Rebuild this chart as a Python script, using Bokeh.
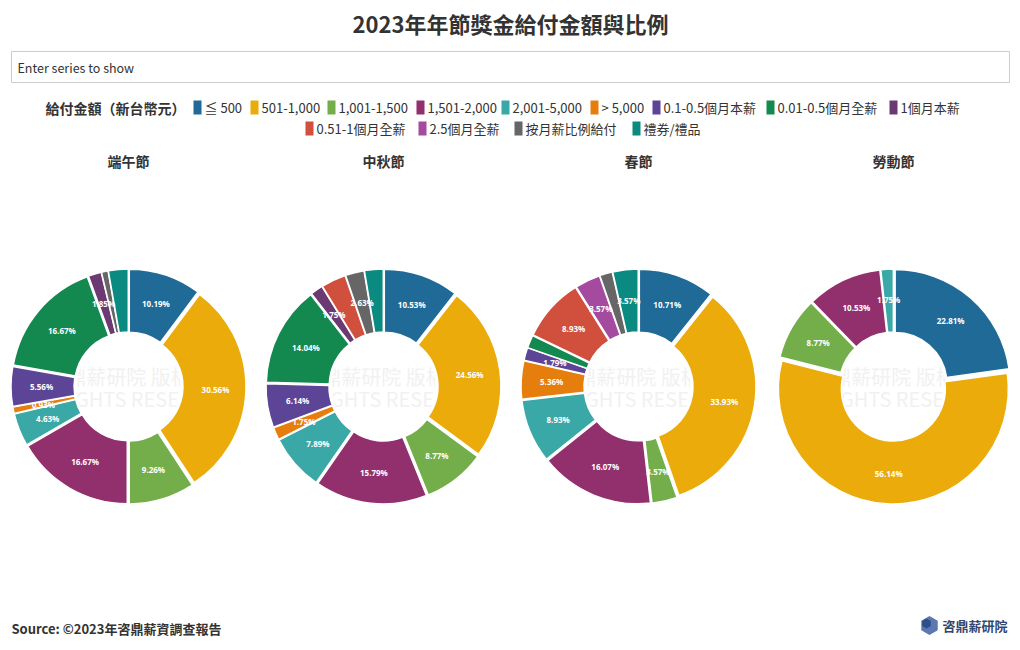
import math
from bokeh.plotting import figure
from bokeh.models import ColumnDataSource, Range1d
from bokeh.embed import file_html
from bokeh.resources import INLINE
from bokeh.core.properties import value

# ---------------- data ----------------
chart_title = "2023年年節獎金給付金額與比例"
legend_title = "給付金額（新台幣元）"
source_note = "Source: ©2023年咨鼎薪資調查報告"
categories = ["≦ 500", "501-1,000", "1,001-1,500", "1,501-2,000", "2,001-5,000", "> 5,000",
              "0.1-0.5個月本薪", "0.01-0.5個月全薪", "1個月本薪", "0.51-1個月全薪",
              "2.5個月全薪", "按月薪比例給付", "禮券/禮品"]
holidays = ["端午節", "中秋節", "春節", "勞動節"]
duanwu = [10.19, 30.56, 9.26, 16.67, 4.63, 0.93, 5.56, 16.67, 1.85, 0, 0, 0.93, 2.78]
zhongqiu = [10.53, 24.56, 8.77, 15.79, 7.89, 1.75, 6.14, 14.04, 1.75, 3.51, 0, 2.63, 2.63]
chunjie = [10.71, 33.93, 3.57, 16.07, 8.93, 5.36, 1.79, 1.79, 0, 8.93, 3.57, 1.79, 3.57]
laodong = [22.81, 56.14, 8.77, 10.53, 1.75, 0, 0, 0, 0, 0, 0, 0, 0]
series = [duanwu, zhongqiu, chunjie, laodong]

# ---------------- style / layout ----------------
colors = ["#1f6a96", "#eaab0b", "#74ae4a", "#922f6d", "#3aa8a6", "#e67e0e", "#5c4497",
          "#13884f", "#6b3a72", "#d04f3d", "#a54b9f", "#666666", "#0a8a80"]
# labels that the reference does not print (too small to fit)
hidden = {(0, 11), (0, 12), (1, 9), (1, 12), (2, 7), (2, 11)}
W, H = 1020, 650
def Y(px):
    return H - px
centers_x = [128, 383, 638, 893]
center_y = Y(386)
R_OUT = 115
R_IN = 52
PULL = 2.5
FONT = "Noto Sans CJK TC"
leg_row1 = [193, 250, 327, 416, 501, 590, 652, 766, 889]
leg_row2 = [305, 418, 514, 632]

p = figure(width=W, height=H, x_range=Range1d(0, W), y_range=Range1d(0, H),
           output_backend="svg", toolbar_location=None, tools="", min_border=0,
           background_fill_color="white", border_fill_color="white")
p.axis.visible = False
p.grid.visible = False
p.outline_line_color = None

# title
p.text(x=[W / 2], y=[Y(22)], text=[chart_title], text_font=value(FONT), text_font_style="bold",
       text_font_size="22px", text_color="#333333", text_align="center", text_baseline="middle")

# series filter box
p.quad(left=[11], right=[1009], top=[Y(51)], bottom=[Y(82)], fill_color="white",
       line_color="#cccccc", line_width=1)
p.text(x=[17], y=[Y(67)], text=["Enter series to show"], text_font=value(FONT),
       text_font_size="12.5px", text_color="#333333", text_align="left", text_baseline="middle")

# legend
p.text(x=[45], y=[Y(107)], text=[legend_title], text_font=value(FONT), text_font_style="bold",
       text_font_size="14px", text_color="#333333", text_align="left", text_baseline="middle")
lx = leg_row1 + leg_row2
ly = [Y(107)] * len(leg_row1) + [Y(128)] * len(leg_row2)
p.rect(x=[v + 4 for v in lx], y=ly, width=8, height=14, fill_color=colors, line_color=None)
p.text(x=[v + 11 for v in lx], y=ly, text=categories, text_font=value(FONT),
       text_font_size="13px", text_color="#333333", text_align="left", text_baseline="middle")

# subplot titles
p.text(x=centers_x, y=[Y(160)] * 4, text=holidays, text_font=value(FONT), text_font_style="bold",
       text_font_size="14px", text_color="#333333", text_align="center", text_baseline="middle")

# watermark (visible only inside holes)
p.text(x=[cx + 10 for cx in centers_x], y=[Y(376)] * 4, text=["咨鼎薪研院 版權所有"] * 4,
       text_font=value(FONT), text_font_size="20px", text_color="#f1f1f1",
       text_align="center", text_baseline="middle")
p.text(x=[cx - 5 for cx in centers_x], y=[Y(398)] * 4, text=["ALL RIGHTS RESERVED"] * 4,
       text_font=value(FONT), text_font_size="20px", text_color="#f1f1f1",
       text_align="center", text_baseline="middle")
p.annular_wedge(x=centers_x, y=[center_y] * 4, inner_radius=R_IN, outer_radius=R_OUT + 30,
                start_angle=0, end_angle=2 * math.pi, fill_color="white", line_color=None)

# pies
wx, wy, ws, we, wc, tx, ty, tt = [], [], [], [], [], [], [], []
for si, vals in enumerate(series):
    total = sum(vals)
    cum = 0.0
    cx = centers_x[si]
    for ci, v in enumerate(vals):
        if v <= 0:
            continue
        a0 = math.pi / 2 - 2 * math.pi * cum / total
        a1 = math.pi / 2 - 2 * math.pi * (cum + v) / total
        cum += v
        mid = (a0 + a1) / 2
        ox = cx + PULL * math.cos(mid)
        oy = center_y + PULL * math.sin(mid)
        wx.append(ox); wy.append(oy); ws.append(a0); we.append(a1); wc.append(colors[ci])
        if (si, ci) not in hidden:
            rm = (R_IN + R_OUT) / 2 + 1
            tx.append(ox + rm * math.cos(mid))
            ty.append(oy + rm * math.sin(mid))
            tt.append(f"{v:.2f}%")

src = ColumnDataSource(dict(x=wx, y=wy, s=ws, e=we, c=wc))
p.annular_wedge(x="x", y="y", inner_radius=R_IN, outer_radius=R_OUT, start_angle="s",
                end_angle="e", direction="clock", fill_color="c", line_color="white",
                line_width=1.5, source=src)
p.text(x=tx, y=ty, text=tt, text_font=value("Open Sans"), text_font_style="bold",
       text_font_size="8px", text_color="white", text_align="center", text_baseline="middle")

# footer
p.text(x=[11], y=[Y(628)], text=[source_note], text_font=value(FONT), text_font_style="bold",
       text_font_size="13px", text_color="#333333", text_align="left", text_baseline="middle")
p.scatter(x=[929], y=[Y(625)], marker="hex", size=19, angle=math.pi / 2,
          fill_color="#5b79b0", line_color=None)
p.scatter(x=[926], y=[Y(623)], marker="hex", size=10, angle=math.pi / 2,
          fill_color="#2f4f8a", line_color=None)
p.text(x=[942], y=[Y(625)], text=["咨鼎薪研院"], text_font=value(FONT), text_font_style="bold",
       text_font_size="13px", text_color="#34466e", text_align="left", text_baseline="middle")

open("out.html", "w").write(file_html(p, INLINE))
